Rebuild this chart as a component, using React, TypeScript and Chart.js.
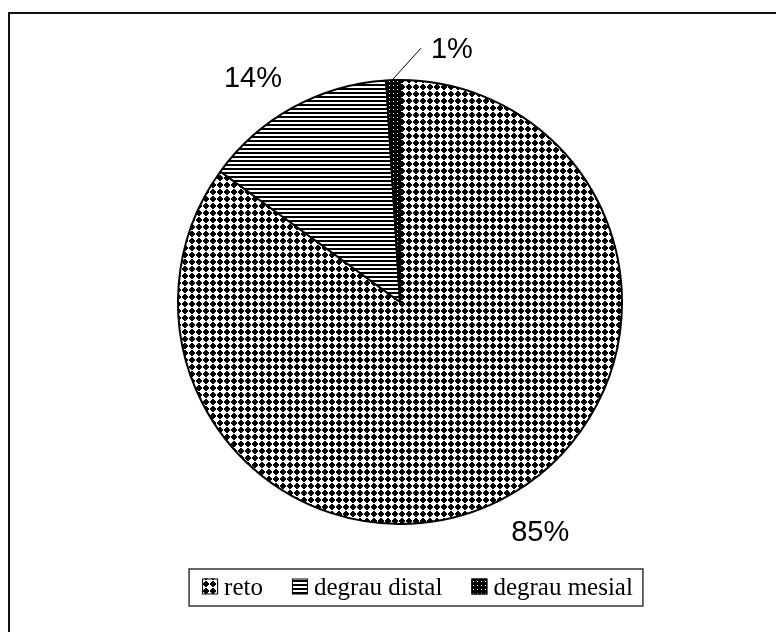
import React, { useEffect, useRef } from "react";
import { Chart, registerables } from "chart.js";

Chart.register(...registerables);

// ---- data ----
const categories = ["reto", "degrau distal", "degrau mesial"];
const percentValues = [85, 14, 1];
const percentLabels = ["85%", "14%", "1%"];

function makePattern(kind: string): CanvasPattern | string {
  const c = document.createElement("canvas");
  const ctx = c.getContext("2d");
  if (!ctx) return "#888";
  if (kind === "dots") {
    c.width = 7;
    c.height = 7;
    ctx.fillStyle = "#fff";
    ctx.fillRect(0, 0, 7, 7);
    ctx.fillStyle = "#000";
    ctx.fillRect(2, 0, 2, 6);
    ctx.fillRect(1, 1, 4, 4);
    ctx.fillRect(0, 2, 6, 2);
  } else if (kind === "hlines") {
    c.width = 4;
    c.height = 4;
    ctx.fillStyle = "#fff";
    ctx.fillRect(0, 0, 4, 4);
    ctx.fillStyle = "#000";
    ctx.fillRect(0, 0, 4, 2);
  } else {
    c.width = 4;
    c.height = 4;
    ctx.fillStyle = "#000";
    ctx.fillRect(0, 0, 4, 4);
    ctx.fillStyle = "#fff";
    ctx.fillRect(1, 1, 1, 1);
  }
  return ctx.createPattern(c, "repeat") as CanvasPattern;
}

export default function App() {
  const ref = useRef<HTMLCanvasElement | null>(null);

  useEffect(() => {
    const canvas = ref.current;
    if (!canvas) return;
    const fills = [makePattern("dots"), makePattern("hlines"), makePattern("dark")];

    const decor = {
      id: "decor",
      afterDraw(chart: any) {
        const ctx: CanvasRenderingContext2D = chart.ctx;
        ctx.save();
        // outer frame: only top and left edges are visible
        ctx.strokeStyle = "#111";
        ctx.lineWidth = 2;
        ctx.beginPath();
        ctx.moveTo(9, 700);
        ctx.lineTo(9, 13);
        ctx.lineTo(900, 13);
        ctx.stroke();

        // slice labels
        const meta = chart.getDatasetMeta(0);
        const labelFont = "29px 'Liberation Sans', Arial, sans-serif";
        ctx.font = labelFont;
        ctx.fillStyle = "#000";
        meta.data.forEach((arc: any, i: number) => {
          const mid = (arc.startAngle + arc.endAngle) / 2;
          const R = arc.outerRadius + 1;
          const cosA = Math.cos(mid);
          const sinA = Math.sin(mid);
          const capH = 29 * 0.716;
          if (percentValues[i] < 3) {
            const sx = arc.x + cosA * R;
            const sy = arc.y + sinA * R;
            const ex = sx + 28;
            const ey = sy - 31;
            ctx.strokeStyle = "#000";
            ctx.lineWidth = 1;
            ctx.beginPath();
            ctx.moveTo(sx, sy);
            ctx.lineTo(ex, ey);
            ctx.stroke();
            ctx.textAlign = "left";
            ctx.textBaseline = "alphabetic";
            ctx.fillText(percentLabels[i], ex + 10, ey + capH / 2);
          } else {
            const px = arc.x + cosA * (R + 22);
            const py = arc.y + sinA * (R + 22);
            ctx.textAlign = cosA >= 0 ? "left" : "right";
            ctx.textBaseline = "alphabetic";
            const by = sinA >= 0 ? py + capH : py;
            ctx.fillText(percentLabels[i], px, by);
          }
        });

        // legend
        const legFont = "25px 'Liberation Serif', 'Times New Roman', serif";
        ctx.font = legFont;
        const box = 16;
        const boxGap = 6;
        const itemGap = 29;
        const padL = 13;
        const padR = 10;
        const widths = categories.map((c) => ctx.measureText(c).width);
        let total = padL + padR;
        widths.forEach((w, i) => {
          total += box + boxGap + w + (i < widths.length - 1 ? itemGap : 0);
        });
        const cxLegend = 416;
        const left = cxLegend - total / 2;
        const top = 569;
        const height = 37;
        ctx.strokeStyle = "#333";
        ctx.lineWidth = 1.5;
        ctx.strokeRect(left, top, total, height);
        let x = left + padL;
        const midY = top + height / 2;
        categories.forEach((c, i) => {
          ctx.fillStyle = fills[i] as any;
          ctx.fillRect(x, midY - 9, box, box);
          ctx.strokeStyle = "#000";
          ctx.lineWidth = 1;
          ctx.strokeRect(x + 0.5, midY - 8.5, box - 1, box - 1);
          ctx.fillStyle = "#000";
          ctx.textAlign = "left";
          ctx.textBaseline = "middle";
          ctx.fillText(c, x + box + boxGap, midY + 1);
          x += box + boxGap + widths[i] + itemGap;
        });
        ctx.restore();
      },
    };

    const chart = new Chart(canvas, {
      type: "pie",
      data: {
        labels: categories,
        datasets: [
          {
            data: percentValues,
            backgroundColor: fills as any,
            borderColor: "#000",
            borderWidth: 2,
          },
        ],
      },
      options: {
        responsive: false,
        animation: false,
        layout: { padding: { left: 177, right: 153, top: 79, bottom: 107 } },
        plugins: {
          legend: { display: false },
          tooltip: { enabled: false },
          title: { display: false },
        },
      },
      plugins: [decor],
    });
    return () => chart.destroy();
  }, []);

  return (
    <div style={{ position: "absolute", left: 0, top: 0, width: 776, height: 632, background: "#fff" }}>
      <canvas ref={ref} width={776} height={632} style={{ display: "block" }} />
    </div>
  );
}
